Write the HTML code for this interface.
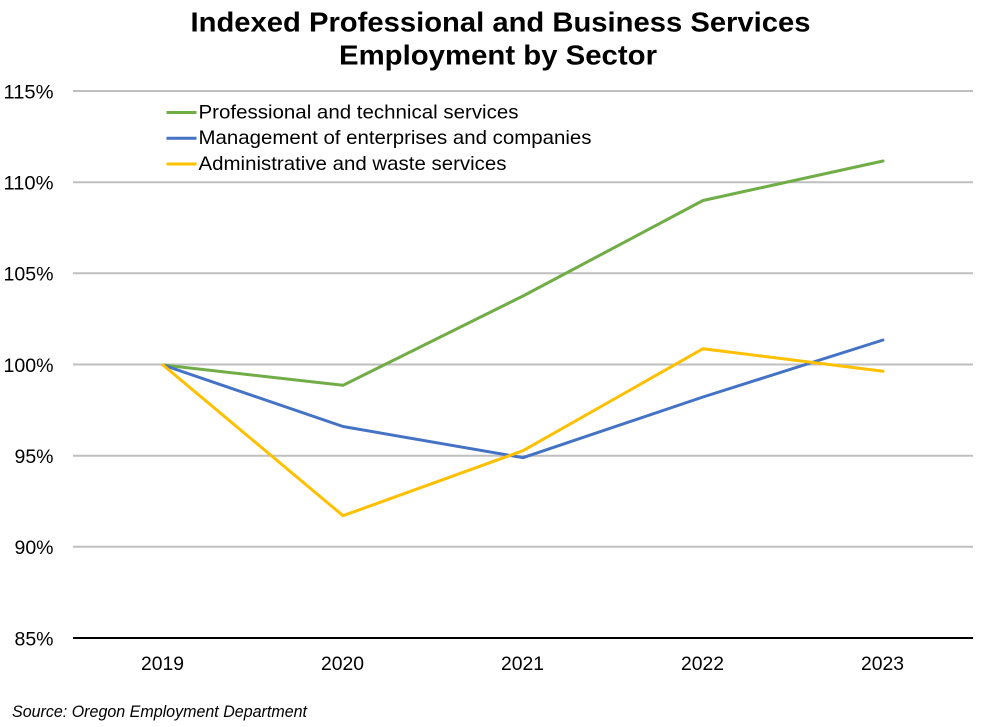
<!DOCTYPE html>
<html>
<head>
<meta charset="utf-8">
<style>
  html, body { margin: 0; padding: 0; background: #ffffff; }
  svg { display: block; }
  text { font-family: "Liberation Sans", Arial, sans-serif; fill: #000; }
</style>
</head>
<body>
<svg width="1000" height="727" viewBox="0 0 1000 727" xmlns="http://www.w3.org/2000/svg">
  <rect x="0" y="0" width="1000" height="727" fill="#ffffff"/>

  <!-- Title -->
  <text x="190.5" y="31.5" font-size="28" font-weight="bold" textLength="620" lengthAdjust="spacingAndGlyphs">Indexed Professional and Business Services</text>
  <text x="339" y="64.5" font-size="28" font-weight="bold" textLength="318" lengthAdjust="spacingAndGlyphs">Employment by Sector</text>

  <!-- Gridlines -->
  <g stroke="#BFBFBF" stroke-width="2">
    <line x1="73" y1="91" x2="973" y2="91"/>
    <line x1="73" y1="182.2" x2="973" y2="182.2"/>
    <line x1="73" y1="273.3" x2="973" y2="273.3"/>
    <line x1="73" y1="364.5" x2="973" y2="364.5"/>
    <line x1="73" y1="455.7" x2="973" y2="455.7"/>
    <line x1="73" y1="546.8" x2="973" y2="546.8"/>
  </g>
  <!-- Axis line -->
  <line x1="73" y1="638" x2="973" y2="638" stroke="#000" stroke-width="2"/>

  <!-- Y tick labels -->
  <g font-size="19">
    <text x="3.5" y="98.3" textLength="50" lengthAdjust="spacingAndGlyphs">115%</text>
    <text x="3.5" y="189.5" textLength="50" lengthAdjust="spacingAndGlyphs">110%</text>
    <text x="3.5" y="280.6" textLength="50" lengthAdjust="spacingAndGlyphs">105%</text>
    <text x="3.5" y="371.8" textLength="50" lengthAdjust="spacingAndGlyphs">100%</text>
    <text x="14.5" y="463" textLength="39" lengthAdjust="spacingAndGlyphs">95%</text>
    <text x="14.5" y="554.1" textLength="39" lengthAdjust="spacingAndGlyphs">90%</text>
    <text x="14.5" y="645.3" textLength="39" lengthAdjust="spacingAndGlyphs">85%</text>
  </g>

  <!-- X labels -->
  <g font-size="19">
    <text x="141" y="670" textLength="43" lengthAdjust="spacingAndGlyphs">2019</text>
    <text x="321" y="670" textLength="43" lengthAdjust="spacingAndGlyphs">2020</text>
    <text x="501" y="670" textLength="43" lengthAdjust="spacingAndGlyphs">2021</text>
    <text x="681" y="670" textLength="43" lengthAdjust="spacingAndGlyphs">2022</text>
    <text x="861" y="670" textLength="43" lengthAdjust="spacingAndGlyphs">2023</text>
  </g>

  <!-- Series -->
  <g fill="none" stroke-width="3" stroke-linejoin="round" stroke-linecap="round">
    <polyline stroke="#70AD47" points="163,365 343,385.3 523,296 703,200.5 883,161"/>
    <polyline stroke="#4472C4" points="163,365 343,426.5 523,457.7 703,397 883,340"/>
    <polyline stroke="#FFC000" points="163,365 343,515.7 523,450.7 703,348.7 883,371.3"/>
  </g>

  <!-- Legend -->
  <g stroke-width="3">
    <line x1="166.5" y1="112.5" x2="196.5" y2="112.5" stroke="#70AD47"/>
    <line x1="166.5" y1="138.2" x2="196.5" y2="138.2" stroke="#4472C4"/>
    <line x1="166.5" y1="164" x2="196.5" y2="164" stroke="#FFC000"/>
  </g>
  <g font-size="19.5">
    <text x="198.5" y="118.5" textLength="320" lengthAdjust="spacingAndGlyphs">Professional and technical services</text>
    <text x="198.5" y="144.2" textLength="393" lengthAdjust="spacingAndGlyphs">Management of enterprises and companies</text>
    <text x="198.5" y="170" textLength="308" lengthAdjust="spacingAndGlyphs">Administrative and waste services</text>
  </g>

  <!-- Source -->
  <text x="12" y="717" font-size="16.5" font-style="italic" textLength="295" lengthAdjust="spacingAndGlyphs">Source: Oregon Employment Department</text>
</svg>
</body>
</html>
